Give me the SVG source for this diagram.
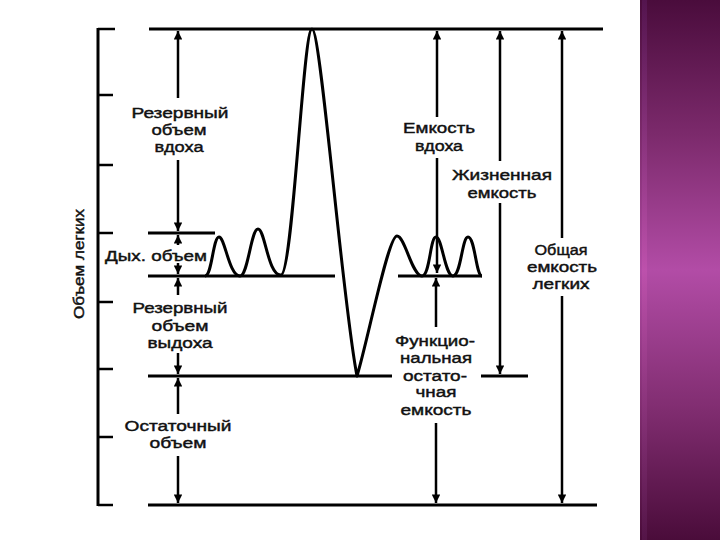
<svg xmlns="http://www.w3.org/2000/svg" width="720" height="540" viewBox="0 0 720 540">
  <defs>
    <linearGradient id="band" x1="0" y1="0" x2="0" y2="1">
      <stop offset="0" stop-color="#4a0c3c"/>
      <stop offset="0.25" stop-color="#7c2a6c"/>
      <stop offset="0.5" stop-color="#b24ca6"/>
      <stop offset="0.75" stop-color="#822e72"/>
      <stop offset="1" stop-color="#4a0c3a"/>
    </linearGradient>
    <linearGradient id="stripe" x1="0" y1="0" x2="0" y2="1">
      <stop offset="0" stop-color="#5a1a5a"/>
      <stop offset="0.5" stop-color="#c454b0"/>
      <stop offset="1" stop-color="#5a1a50"/>
    </linearGradient>
    <marker id="ah" viewBox="0 0 10 10" refX="10" refY="5" markerWidth="3.6" markerHeight="3.4" orient="auto-start-reverse" markerUnits="strokeWidth">
      <path d="M0,0 L10,5 L0,10 z" fill="#000"/>
    </marker>
  </defs>
  <style>
    .ln { stroke: #000; stroke-width: 3; fill: none; }
    .tk { stroke: #000; stroke-width: 2.5; fill: none; }
    .ar { stroke: #000; stroke-width: 2.5; fill: none; }
    .cv { stroke: #000; stroke-width: 3; fill: none; stroke-linejoin: round; }
    .lb { font-family: "Liberation Sans", Arial, sans-serif; font-size: 15.5px; fill: #111; text-anchor: middle; stroke: #111; stroke-width: 0.45; }
  </style>
  <rect width="720" height="540" fill="#fff"/>
  <rect x="640" y="0" width="80" height="540" fill="url(#band)"/>
  <rect x="642" y="0" width="5" height="540" fill="url(#stripe)" opacity="0.6"/>

  <g id="axis">
    <line class="ln" x1="98" y1="28" x2="98" y2="506"/>
    <line class="tk" x1="98" y1="29" x2="115" y2="29"/>
    <line class="tk" x1="98" y1="95" x2="113" y2="95"/>
    <line class="tk" x1="98" y1="165" x2="113" y2="165"/>
    <line class="tk" x1="98" y1="233" x2="113" y2="233"/>
    <line class="tk" x1="98" y1="302" x2="113" y2="302"/>
    <line class="tk" x1="98" y1="369" x2="113" y2="369"/>
    <line class="tk" x1="98" y1="437" x2="113" y2="437"/>
    <line class="tk" x1="98" y1="505" x2="113" y2="505"/>
    <text class="lb" transform="translate(84,264) rotate(-90)" font-size="14" textLength="110" lengthAdjust="spacingAndGlyphs">Объем легких</text>
  </g>

  <g id="levels">
    <line class="ln" x1="149" y1="29" x2="603" y2="29"/>
    <line class="ln" x1="148" y1="233" x2="215" y2="233"/>
    <line class="ln" x1="148" y1="276" x2="335" y2="276"/>
    <line class="ln" x1="398" y1="276" x2="482" y2="276"/>
    <line class="ln" x1="148" y1="376" x2="392" y2="376"/>
    <line class="ln" x1="481" y1="376" x2="528" y2="376"/>
    <line class="ln" x1="148" y1="505" x2="597" y2="505"/>
  </g>

  <g id="spirogram">
    <path class="cv" d="M205,276 C212,276 213,237 219,237 C225,237 229,276 240,276 C248,276 251,229 258,229 C265,229 268,276 281,275 C293,274 303,29 312,29 C321,29 342,300 357,376 C368,340 388,236 397,236 C405,236 412,276 422,276 C430,276 430,237 436,237 C442,237 445,276 453,276 C461,276 462,237 468,237 C475,237 476,276 482,276"/>
  </g>

  <g id="connectors">
    <line class="ar" x1="178" y1="98" x2="178" y2="31" marker-end="url(#ah)"/>
    <line class="ar" x1="178" y1="160" x2="178" y2="231" marker-end="url(#ah)"/>
    <line class="ar" x1="178" y1="245" x2="178" y2="235" marker-end="url(#ah)"/>
    <line class="ar" x1="178" y1="263" x2="178" y2="274" marker-end="url(#ah)"/>
    <line class="ar" x1="178" y1="295" x2="178" y2="278" marker-end="url(#ah)"/>
    <line class="ar" x1="178" y1="353" x2="178" y2="374" marker-end="url(#ah)"/>
    <line class="ar" x1="178" y1="414" x2="178" y2="378" marker-end="url(#ah)"/>
    <line class="ar" x1="178" y1="456" x2="178" y2="503" marker-end="url(#ah)"/>

    <line class="ar" x1="437" y1="117" x2="437" y2="31" marker-end="url(#ah)"/>
    <line class="ar" x1="437" y1="158" x2="437" y2="273" marker-end="url(#ah)"/>
    <line class="ar" x1="436" y1="327" x2="436" y2="278" marker-end="url(#ah)"/>
    <line class="ar" x1="436" y1="423" x2="436" y2="503" marker-end="url(#ah)"/>

    <line class="ar" x1="500" y1="161" x2="500" y2="31" marker-end="url(#ah)"/>
    <line class="ar" x1="500" y1="203" x2="500" y2="374" marker-end="url(#ah)"/>

    <line class="ar" x1="562" y1="238" x2="562" y2="31" marker-end="url(#ah)"/>
    <line class="ar" x1="562" y1="296" x2="562" y2="503" marker-end="url(#ah)"/>
  </g>

  <g id="irv">
    <text class="lb" x="180" y="118" textLength="97" lengthAdjust="spacingAndGlyphs">Резервный</text>
    <text class="lb" x="179" y="135" textLength="55" lengthAdjust="spacingAndGlyphs">объем</text>
    <text class="lb" x="179" y="152" textLength="49" lengthAdjust="spacingAndGlyphs">вдоха</text>
  </g>
  <g id="tv">
    <text class="lb" x="156" y="261" textLength="102" lengthAdjust="spacingAndGlyphs">Дых. объем</text>
  </g>
  <g id="erv">
    <text class="lb" x="180" y="313" textLength="95" lengthAdjust="spacingAndGlyphs">Резервный</text>
    <text class="lb" x="180" y="331" textLength="57" lengthAdjust="spacingAndGlyphs">объем</text>
    <text class="lb" x="180" y="348" textLength="65" lengthAdjust="spacingAndGlyphs">выдоха</text>
  </g>
  <g id="rv">
    <text class="lb" x="178" y="431" textLength="107" lengthAdjust="spacingAndGlyphs">Остаточный</text>
    <text class="lb" x="178" y="448" textLength="57" lengthAdjust="spacingAndGlyphs">объем</text>
  </g>
  <g id="ic">
    <text class="lb" x="439" y="133" textLength="72" lengthAdjust="spacingAndGlyphs">Емкость</text>
    <text class="lb" x="439" y="151" textLength="48" lengthAdjust="spacingAndGlyphs">вдоха</text>
  </g>
  <g id="vc">
    <text class="lb" x="502" y="180" textLength="100" lengthAdjust="spacingAndGlyphs">Жизненная</text>
    <text class="lb" x="502" y="198" textLength="69" lengthAdjust="spacingAndGlyphs">емкость</text>
  </g>
  <g id="tlc">
    <text class="lb" x="561" y="255" textLength="53" lengthAdjust="spacingAndGlyphs">Общая</text>
    <text class="lb" x="562" y="272" textLength="70" lengthAdjust="spacingAndGlyphs">емкость</text>
    <text class="lb" x="561" y="289" textLength="57" lengthAdjust="spacingAndGlyphs">легких</text>
  </g>
  <g id="frc">
    <text class="lb" x="435" y="346" textLength="80" lengthAdjust="spacingAndGlyphs">Функцио-</text>
    <text class="lb" x="436" y="363" textLength="72" lengthAdjust="spacingAndGlyphs">нальная</text>
    <text class="lb" x="435" y="381" textLength="64" lengthAdjust="spacingAndGlyphs">остато-</text>
    <text class="lb" x="436" y="397" textLength="41" lengthAdjust="spacingAndGlyphs">чная</text>
    <text class="lb" x="436" y="415" textLength="71" lengthAdjust="spacingAndGlyphs">емкость</text>
  </g>
</svg>
